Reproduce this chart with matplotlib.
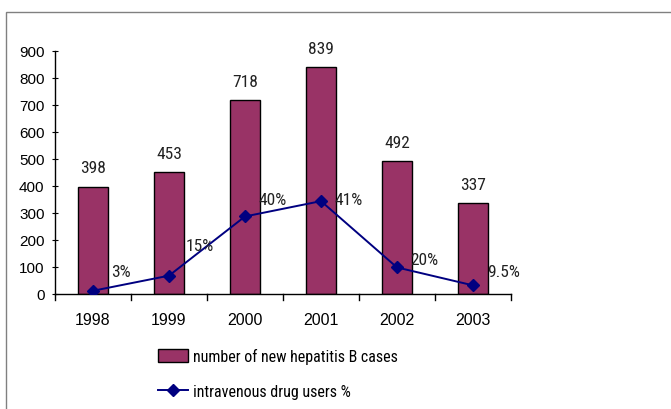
import matplotlib
matplotlib.use("Agg")
import matplotlib.pyplot as plt
from matplotlib.patches import Rectangle, Patch
from matplotlib.lines import Line2D

years = ["1998", "1999", "2000", "2001", "2002", "2003"]
cases = [398, 453, 718, 839, 492, 337]
idu_pct = [3, 15, 40, 41, 20, 9.5]
pct_labels = ["3%", "15%", "40%", "41%", "20%", "9.5%"]
yticks = [0, 100, 200, 300, 400, 500, 600, 700, 800, 900]

# cases among intravenous drug users, drawn on the same case-count axis
idu_cases = [c * p / 100 for c, p in zip(cases, idu_pct)]

plt.rcParams["font.family"] = ["Liberation Sans", "DejaVu Sans"]
NARROW = ["Roboto Condensed", "DejaVu Sans"]

BAR = "#993366"
LINE = "#000080"
TXT = "#222222"

fig = plt.figure(figsize=(6.71, 4.10), dpi=100)
fig.patches.append(Rectangle((6 / 671, -0.1), 1.2, (410 - 13) / 410 + 0.1,
                             transform=fig.transFigure, fill=False,
                             edgecolor="#808080", linewidth=1.0))

ax = fig.add_axes([55 / 671, (410 - 295) / 410, (511 - 55) / 671, (295 - 52) / 410])
x = list(range(len(years)))
ax.bar(x, cases, width=0.4, color=BAR, edgecolor="black", linewidth=1.0, zorder=2)
ax.plot(x, idu_cases, color=LINE, linewidth=1.4, marker="D", markersize=6,
        markerfacecolor=LINE, markeredgecolor=LINE, zorder=3)

ax.set_xlim(-0.5, len(years) - 0.5)
ax.set_ylim(0, 900)
ax.set_yticks(yticks)
ax.set_yticklabels([str(v) for v in yticks], fontsize=11)
ax.set_xticks(x)
ax.set_xticklabels(years, fontsize=11.5)
ax.tick_params(axis="x", length=0, pad=13)
ax.tick_params(axis="y", length=5, direction="inout", pad=5)
# category separator ticks below the baseline
for b in [i - 0.5 for i in range(len(years) + 1)]:
    ax.plot([b, b], [0, -900 * 6 / 243], color="black", linewidth=1.0,
            clip_on=False, zorder=4)
for s in ["top", "right"]:
    ax.spines[s].set_visible(False)
ax.spines["left"].set_linewidth(1.0)
ax.spines["bottom"].set_linewidth(1.0)

for i, v in enumerate(cases):
    ax.annotate(str(v), (i, v), xytext=(0, 8), textcoords="offset points",
                ha="center", va="bottom", fontsize=12.5, family=NARROW, color=TXT)

pct_offsets = [(20, 14), (22, 22), (20, 12), (20, 1.5), (20, 6), (22, 10)]
for i, (v, lab) in enumerate(zip(idu_cases, pct_labels)):
    dx, dy = pct_offsets[i]
    ax.annotate(lab, (i, v), xytext=(dx, dy), textcoords="offset points",
                ha="center", va="center", fontsize=12.5, family=NARROW, color=TXT)

handles = [Patch(facecolor=BAR, edgecolor="black", linewidth=1.0),
           Line2D([], [], color=LINE, linewidth=1.4, marker="D", markersize=6)]
fig.legend(handles, ["number of new hepatitis B cases", "intravenous drug users %"],
           loc="center left", bbox_to_anchor=(158 / 671, (410 - 374.5) / 410),
           frameon=False, prop={"family": NARROW, "size": 11.5},
           borderpad=0, borderaxespad=0,
           handlelength=1.9, handleheight=0.8, handletextpad=0.3, labelspacing=1.25)

fig.savefig("out.png", dpi=100)
